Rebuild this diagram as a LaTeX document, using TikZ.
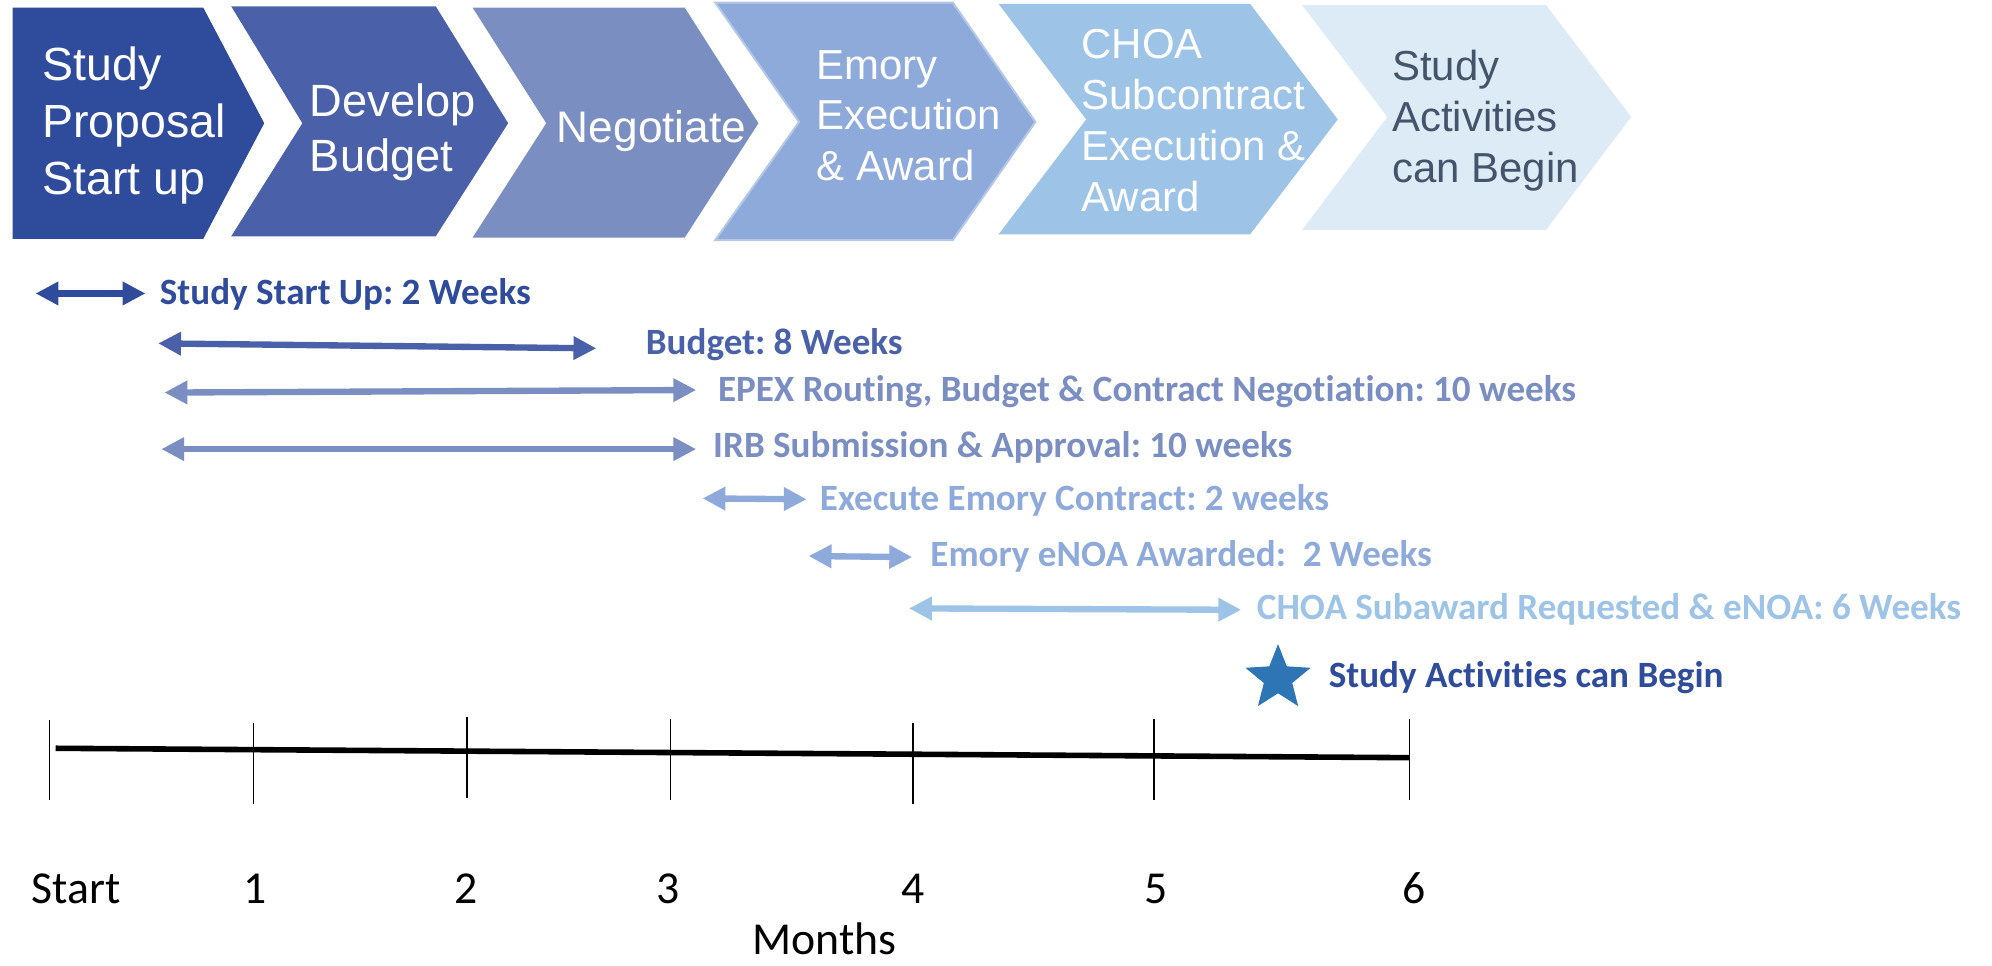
\documentclass[tikz,border=0pt]{standalone}
\usepackage{fontspec}
\setmainfont{Carlito}[Ligatures=NoCommon]
\newfontfamily\arialfont{Liberation Sans}
\usepackage{tikz}
\usetikzlibrary{arrows.meta,shapes.geometric}
\usepackage{xcolor}
\frenchspacing

\definecolor{phaseA}{RGB}{47,75,155}
\definecolor{phaseB}{RGB}{74,97,170}
\definecolor{phaseC}{RGB}{123,142,194}
\definecolor{phaseD}{RGB}{142,170,219}
\definecolor{phaseE}{RGB}{157,195,230}
\definecolor{phaseF}{RGB}{221,235,247}
\definecolor{phaseText}{RGB}{68,84,106}
\definecolor{starBlue}{RGB}{46,117,182}

\begin{document}
\begin{tikzpicture}[x=0.5pt,y=0.5pt,yscale=-1,xscale=1,
    chevtext/.style={anchor=west,inner sep=0pt,align=left,text=white},
    span/.style={line width=2.5pt,<->,>={Triangle[length=9pt,width=8.8pt]}},
    spanlabel/.style={anchor=base west,inner sep=0pt,font=\bfseries\fontsize{14.6}{17}\selectfont},
    tick/.style={line width=0.5pt},
    monthlabel/.style={anchor=base,inner sep=0pt,font=\fontsize{18}{21}\selectfont}]
\useasboundingbox (0,0) rectangle (1568,760);

                    %Shape: Chevron [id:study]
                    \fill [phaseA] (10,6) -- (160,6) -- (208,97) -- (160,188) -- (10,188) -- cycle ;
                    %Shape: Chevron [id:budget]
                    \fill [phaseB] (182,5) -- (343,5) -- (400,97) -- (343,186) -- (182,186) -- (238,97) -- cycle ;
                    %Shape: Chevron [id:negotiate]
                    \fill [phaseC] (372,6) -- (539,6) -- (597,97) -- (539,187) -- (372,187) -- (430,97) -- cycle ;
                    %Shape: Chevron [id:emory]
                    \draw [draw={rgb, 255:red, 180; green, 199; blue, 231 },line width=0.8pt,fill=phaseD] (563,2) -- (750,2) -- (815,96) -- (750,189) -- (563,189) -- (629,96) -- cycle ;
                    %Shape: Chevron [id:choa]
                    \fill [phaseE] (786,3) -- (984,3) -- (1053,94) -- (984,184.5) -- (786,184.5) -- (855,94) -- cycle ;
                    %Shape: Chevron [id:begin]
                    \fill [phaseF] (1025,4) -- (1217,4) -- (1284,92) -- (1217,181) -- (1025,181) -- (1092,92) -- cycle ;

                    % Text Node
                    \node (c1) [chevtext,font=\arialfont\fontsize{18.3}{22.5}\selectfont] at (33,99) {Study\\Proposal\\Start up};
                    % Text Node
                    \node (c2) [chevtext,font=\arialfont\fontsize{17.8}{21.5}\selectfont] at (243.5,104) {Develop\\Budget};
                    % Text Node
                    \node (c3) [chevtext,font=\arialfont\fontsize{17.4}{21}\selectfont] at (438,103) {Negotiate};
                    % Text Node
                    \node (c4) [chevtext,font=\arialfont\fontsize{16.5}{20}\selectfont] at (642.5,91) {Emory\\Execution\\\& Award};
                    % Text Node
                    \node (c5) [chevtext,font=\arialfont\fontsize{16.5}{20}\selectfont] at (851,95) {CHOA\\Subcontract\\Execution \&\\Award};
                    % Text Node
                    \node (c6) [chevtext,text=phaseText,font=\arialfont\fontsize{16.5}{20}\selectfont] at (1095.5,95) {Study\\Activities\\can Begin};

                    %Straight Lines [id:startup]
                    \coordinate (su-a) at (28,231);
                    \coordinate (su-b) at (114.5,231);
                    \draw [span,phaseA] (su-a) -- (su-b) ;
                    %Straight Lines [id:budget]
                    \coordinate (bd-a) at (124.5,270.3);
                    \coordinate (bd-b) at (469.4,274.2);
                    \draw [span,phaseB] (bd-a) -- (bd-b) ;
                    %Straight Lines [id:epex]
                    \coordinate (ep-a) at (129.5,309);
                    \coordinate (ep-b) at (548,307);
                    \draw [span,phaseC] (ep-a) -- (ep-b) ;
                    %Straight Lines [id:irb]
                    \coordinate (irb-a) at (127,353.5);
                    \coordinate (irb-b) at (548,353.5);
                    \draw [span,phaseC] (irb-a) -- (irb-b) ;
                    %Straight Lines [id:execute]
                    \coordinate (ex-a) at (553,392.3);
                    \coordinate (ex-b) at (635,393);
                    \draw [span,phaseD] (ex-a) -- (ex-b) ;
                    %Straight Lines [id:enoa]
                    \coordinate (en-a) at (636.5,437.7);
                    \coordinate (en-b) at (718,438.5);
                    \draw [span,phaseD] (en-a) -- (en-b) ;
                    %Straight Lines [id:subaward]
                    \coordinate (sa-a) at (715.5,478.9);
                    \coordinate (sa-b) at (977,480);
                    \draw [span,phaseE] (sa-a) -- (sa-b) ;

                    % Text Node
                    \node (l-su) [spanlabel,text=phaseA] at (125.5,239.5) {Study Start Up: 2 Weeks};
                    % Text Node
                    \node (l-bd) [spanlabel,text=phaseB] at (508,279.4) {Budget: 8 Weeks};
                    % Text Node
                    \node (l-ep) [spanlabel,text=phaseC] at (564.8,316.2) {EPEX Routing, Budget \& Contract Negotiation: 10 weeks};
                    % Text Node
                    \node (l-irb) [spanlabel,text=phaseC] at (561,360) {IRB Submission \& Approval: 10 weeks};
                    % Text Node
                    \node (l-ex) [spanlabel,text=phaseD] at (645,401.5) {Execute Emory Contract: 2 weeks};
                    % Text Node
                    \node (l-en) [spanlabel,text=phaseD] at (732,446) {Emory eNOA Awarded:\ \ 2 Weeks};
                    % Text Node
                    \node (l-sa) [spanlabel,text=phaseE] at (989,488) {CHOA Subaward Requested \& eNOA: 6 Weeks};

                    %Shape: Star [id:go]
                    \node (go) [star,star points=5,star point ratio=2.3,fill=starBlue,inner sep=0pt,minimum size=27pt] at (1006,534) {};
                    % Text Node
                    \node (l-go) [spanlabel,text=phaseA] at (1045.6,541) {Study Activities can Begin};

                    %Straight Lines [id:timeline]
                    \coordinate (tl-a) at (43.7,589);
                    \coordinate (tl-b) at (1109.6,596.4);
                    \draw [line width=2.2pt] (tl-a) -- (tl-b) ;
                    \foreach \x/\a/\b in {39.2/567/630, 199.6/569/633, 367.6/564/628.4, 528/566/630, 718.6/569/633, 908.4/566/630, 1109.6/566/630}
                        \draw [tick] (\x,\a) -- (\x,\b) ;

                    % Text Node
                    \node (m0) [monthlabel] at (60,711) {Start};
                    \node (m1) [monthlabel] at (201,711) {1};
                    \node (m2) [monthlabel] at (367,711) {2};
                    \node (m3) [monthlabel] at (526,711) {3};
                    \node (m4) [monthlabel] at (719,711) {4};
                    \node (m5) [monthlabel] at (910,711) {5};
                    \node (m6) [monthlabel] at (1113,711) {6};
                    % Text Node
                    \node (months) [monthlabel] at (649,751) {Months};
\end{tikzpicture}
\end{document}
